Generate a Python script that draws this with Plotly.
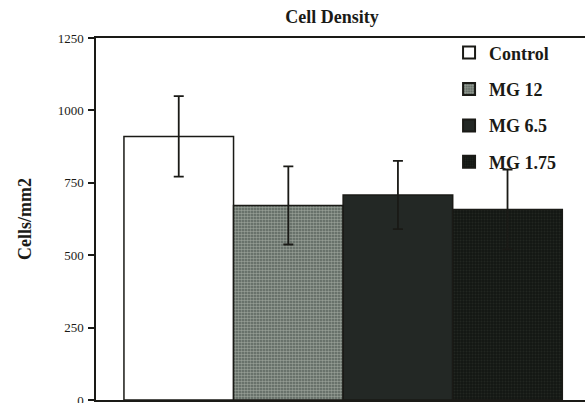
import plotly.graph_objects as go

# Cell density per treatment group (cells/mm2), mean and error
groups = ["Control", "MG 12", "MG 6.5", "MG 1.75"]
means = [910, 672, 708, 658]
errors = [139, 135, 118, 138]

# Fill styling per group
fills = [
    dict(color="#ffffff", pattern=None),
    dict(color="#5c645c", pattern=dict(shape=".", size=3, solidity=0.55,
                                       fgcolor="#d2d8cc", bgcolor="#56605a")),
    dict(color="#232825", pattern=None),
    dict(color="#151815", pattern=dict(shape=".", size=3, solidity=0.35,
                                       fgcolor="#2f362e", bgcolor="#131613")),
]

INK = "#1a1a16"
SERIF = "Liberation Serif, Times New Roman, serif"

fig = go.Figure()
for i, (name, m, e, f) in enumerate(zip(groups, means, errors, fills)):
    marker = dict(color=f["color"], line=dict(color=INK, width=1.5))
    if f["pattern"] is not None:
        marker["pattern"] = f["pattern"]
    fig.add_trace(go.Bar(
        x=[i], y=[m], name="<b>" + name + "</b>", width=1.0,
        legendgroup=name,
        marker=marker,
        error_y=dict(type="data", array=[e], visible=True,
                     color=INK, thickness=1.8, width=5),
    ))

fig.update_layout(
    width=585, height=403,
    margin=dict(l=96, r=0, t=38, b=3),
    paper_bgcolor="white", plot_bgcolor="white",
    barmode="overlay",
    showlegend=True,
    title=dict(text="<b>Cell Density</b>", x=332 / 585, xanchor="center",
               y=1 - 17 / 403, yanchor="middle", yref="container",
               xref="container",
               font=dict(family=SERIF, size=18, color=INK)),
    legend=dict(x=0.722, xanchor="left", y=1.01, yanchor="top",
                traceorder="grouped", tracegroupgap=10,
                bgcolor="rgba(0,0,0,0)", borderwidth=0,
                font=dict(family=SERIF, size=18, color=INK),
                itemsizing="constant"),
    font=dict(family=SERIF, color=INK),
)

fig.update_xaxes(range=[-0.755, 3.707], showticklabels=False, ticks="",
                 showgrid=False, zeroline=False, showline=True,
                 linecolor=INK, linewidth=1.5, mirror=True,
                 automargin=False)
fig.update_yaxes(range=[0, 1250], tickvals=[0, 250, 500, 750, 1000, 1250],
                 ticks="outside", ticklen=6, tickwidth=1.5, tickcolor=INK,
                 ticklabelstandoff=2, ticklabeloverflow="allow",
                 automargin="left",
                 tickfont=dict(family=SERIF, size=13, color=INK),
                 showgrid=False, zeroline=False, showline=True,
                 linecolor=INK, linewidth=1.5,
                 title=dict(text="<b>Cells/mm2</b>", standoff=21,
                            font=dict(family=SERIF, size=18, color=INK)))

fig.write_html("out.html")
